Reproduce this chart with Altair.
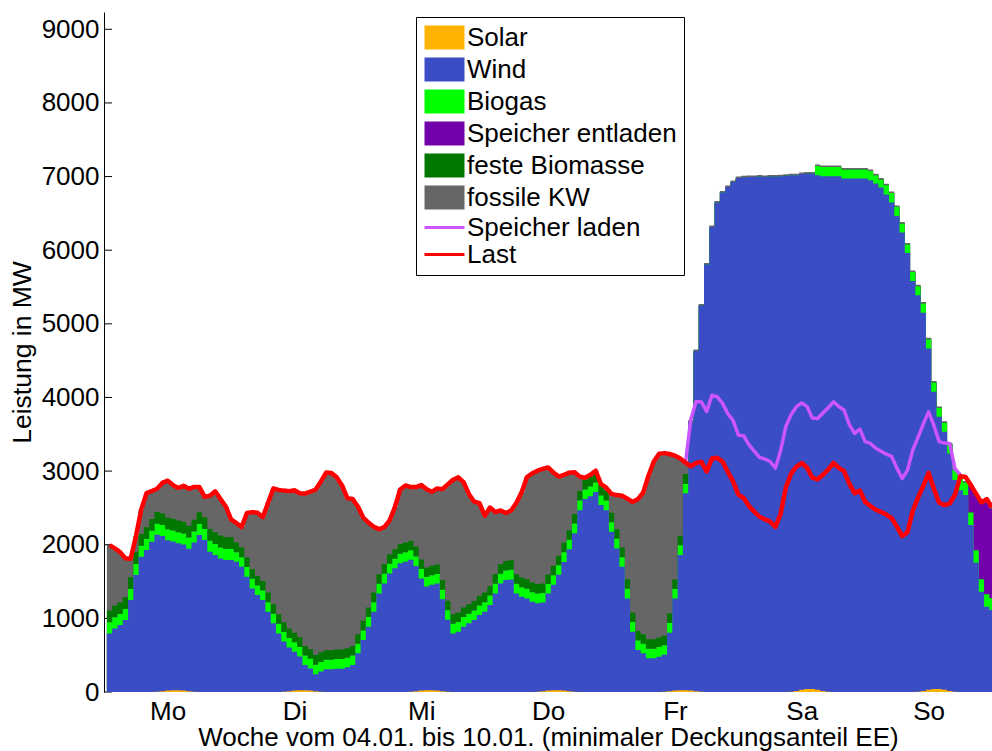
import altair as alt
import pandas as pd

# Hourly values for the week 04.01.-10.01. (hour 0 = Monday 00:00), in MW
last = [
    1995, 1950, 1900, 1815, 1810, 2120, 2480, 2700, 2730, 2760,
    2840, 2870, 2810, 2770, 2800, 2760, 2785, 2785, 2650, 2665,
    2725, 2620, 2520, 2345, 2295, 2240, 2430, 2443, 2435, 2375,
    2570, 2765, 2745, 2735, 2728, 2740, 2700, 2695, 2720, 2750,
    2860, 2980, 2973, 2915, 2805, 2633, 2620, 2520, 2370, 2300,
    2245, 2212, 2240, 2330, 2510, 2750, 2805, 2783, 2783, 2810,
    2755, 2718, 2765, 2755, 2820, 2882, 2915, 2850, 2690, 2585,
    2565, 2395, 2505, 2445, 2465, 2432, 2465, 2570, 2715, 2920,
    2970, 3005, 3030, 3050, 2980, 2925, 2950, 2978, 2985, 2925,
    2910, 2950, 3005, 2825, 2775, 2690, 2674, 2665, 2625, 2580,
    2620, 2710, 2940, 3130, 3235, 3244, 3232, 3210, 3170, 3115,
    3065, 3110, 3126, 2995, 3170, 3180, 3130, 2990, 2860, 2680,
    2635, 2525, 2450, 2380, 2345, 2315, 2240, 2420, 2780, 2968,
    3060, 3110, 3045, 2910, 2887, 2950, 3020, 3110, 3045, 3000,
    2830, 2700, 2735, 2580, 2525, 2475, 2445, 2410, 2362, 2245,
    2115, 2170, 2460, 2640, 2800, 2975, 2760, 2570, 2538, 2560,
    2680, 2930, 2920, 2810, 2690, 2575, 2620, 2510,
]

wind = [
    796, 864, 909, 977, 1249, 1588, 1837, 1927, 2041, 2131,
    2108, 2041, 2018, 1995, 1982, 1937, 2027, 2131, 2063, 1905,
    1860, 1814, 1792, 1792, 1769, 1701, 1566, 1407, 1317, 1249,
    1090, 932, 796, 683, 593, 525, 457, 340, 300, 231,
    276, 308, 308, 317, 317, 335, 366, 525, 706, 887,
    1090, 1339, 1475, 1611, 1679, 1747, 1769, 1792, 1701, 1520,
    1407, 1430, 1452, 1249, 977, 796, 819, 887, 932, 977,
    1045, 1090, 1181, 1339, 1475, 1520, 1529, 1339, 1294, 1271,
    1226, 1204, 1204, 1317, 1430, 1566, 1747, 1927, 2154, 2470,
    2620, 2660, 2715, 2540, 2470, 2176, 1950, 1701, 1271, 819,
    570, 525, 457, 457, 480, 502, 796, 1249, 1837, 2674,
    3650, 4620, 5245, 5806, 6316, 6647, 6783, 6859, 6927, 6980,
    6990, 6995, 6995, 7000, 6995, 7000, 7000, 7005, 7010, 7013,
    7003, 7005, 7001, 7001, 6988, 6989, 6999, 7004, 7004, 6973,
    6973, 6973, 6973, 6973, 6950, 6905, 6851, 6756, 6647, 6466,
    6240, 5963, 5583, 5384, 5134, 4635, 4036, 3697, 3503, 3225,
    2873, 2740, 2674, 2267, 1755, 1361, 1158, 1113,
]

solar = (
    [0] * 9 + [3, 10, 20, 25, 25, 20, 10, 3] + [0] * 7      # Mo
    + [0] * 9 + [3, 10, 20, 25, 25, 20, 10, 3] + [0] * 7    # Di
    + [0] * 9 + [3, 10, 20, 25, 25, 20, 10, 3] + [0] * 7    # Mi
    + [0] * 9 + [3, 10, 20, 25, 25, 20, 10, 3] + [0] * 7    # Do
    + [0] * 9 + [3, 10, 20, 25, 25, 20, 10, 3] + [0] * 7    # Fr
    + [0] * 9 + [5, 15, 30, 40, 40, 30, 15, 5] + [0] * 7    # Sa
    + [0] * 9 + [5, 15, 30, 40, 40, 30, 15, 5] + [0] * 7    # So
)

biogas = (
    [150] * 24 + [130] * 85 + [125] + [0] * 24
    + [126, 127, 127, 127, 127, 122, 122, 122, 122, 122, 126, 113, 108, 126,
       131, 122, 122, 114, 122, 122, 127, 127, 128, 122, 123, 125, 135]
    + [170] * 6 + [160]
)

biomasse = [160] * 24 + [130] * 85 + [135] + [0] * 58

speicher_entladen = [0] * 163 + [353, 745, 1024, 1272, 1217]

fossil = [
    889, 776, 681, 528, 251, 222, 333, 463, 379, 316,
    412, 499, 457, 440, 488, 503, 445, 344, 277, 450,
    555, 496, 418, 243, 266, 279, 604, 776, 858, 866,
    1220, 1573, 1689, 1789, 1865, 1935, 1958, 2070, 2140, 2249,
    2321, 2412, 2405, 2338, 2228, 2038, 1994, 1735, 1404, 1153,
    895, 613, 505, 459, 571, 743, 776, 728, 812, 1010,
    1063, 1003, 1033, 1236, 1580, 1826, 1836, 1703, 1498, 1348,
    1260, 1045, 1064, 846, 730, 652, 676, 971, 1161, 1389,
    1484, 1538, 1556, 1453, 1265, 1074, 923, 781, 568, 195,
    30, 30, 30, 25, 45, 254, 464, 704, 1094, 1501,
    1790, 1925, 2223, 2413, 2495, 2479, 2166, 1681, 1048, 156,
] + [20] * 58

# load plus storage charging, hours 109..161
laden_start = 109
speicher_laden = [
    3115, 3700, 3945, 3940, 3810, 4030, 4010, 3920, 3780, 3690,
    3488, 3480, 3360, 3270, 3186, 3165, 3130, 3040, 3280, 3610,
    3770, 3875, 3925, 3876, 3720, 3715, 3790, 3860, 3940, 3878,
    3830, 3630, 3512, 3570, 3400, 3376, 3310, 3270, 3230, 3200,
    3040, 2900, 3010, 3285, 3460, 3640, 3805, 3620, 3400, 3380,
    3376, 3030, 2950,
]

days = ["Mo", "Di", "Mi", "Do", "Fr", "Sa", "So"]

for series in (last, wind, solar, biogas, biomasse, speicher_entladen, fossil):
    assert len(series) == 168

# ---------------------------------------------------------------- tables
n = 168
stack = pd.DataFrame({
    "Solar": solar, "Wind": wind, "Biogas": biogas,
    "Speicher entladen": speicher_entladen, "feste Biomasse": biomasse,
    "fossile KW": fossil,
})
order = ["Solar", "Wind", "Biogas", "Speicher entladen", "feste Biomasse", "fossile KW"]
cum = stack[order].cumsum(axis=1)
cum["Stunde"] = range(n)
# repeat the last hour so the final step has its full width
cum = pd.concat([cum, cum.iloc[[-1]].assign(Stunde=n)], ignore_index=True)

lines_last = pd.DataFrame({"t": [h + 0.5 for h in range(n)], "MW": last})
lines_laden = pd.DataFrame({
    "t": [laden_start + i + 0.5 for i in range(len(speicher_laden))],
    "MW": speicher_laden,
})

colors = {
    "Solar": "#FFB300",
    "Wind": "#3A4DC4",
    "Biogas": "#00FF00",
    "Speicher entladen": "#7200AB",
    "feste Biomasse": "#007800",
    "fossile KW": "#666666",
    "Speicher laden": "#CC55FF",
    "Last": "#FF0000",
}

FONT = "Liberation Sans"
x_dom = [-0.55, 167.5]
y_max = 9235

x_scale = alt.Scale(domain=x_dom, nice=False, zero=False)
y_scale = alt.Scale(domain=[0, y_max], nice=False, zero=False)

tick_pos = [11.5 + 24 * i for i in range(len(days))]
day_js = "[" + ",".join("'" + d + "'" for d in days) + "]"

x_axis = alt.Axis(
    values=tick_pos,
    labelExpr=day_js + "[round((datum.value - 11.5) / 24)]",
    title="Woche vom 04.01. bis 10.01. (minimaler Deckungsanteil EE)",
    titleFont=FONT, titleFontSize=26, titleFontWeight="normal", titleColor="black",
    titleY=53, titleBaseline="alphabetic",
    labelFont=FONT, labelFontSize=26, labelColor="black", labelPadding=6,
    ticks=False, tickSize=0, domain=False, grid=False,
    labelFlush=False, labelOverlap=False,
)
y_axis = alt.Axis(
    values=list(range(0, 9001, 1000)), format="d",
    title="Leistung in MW",
    titleFont=FONT, titleFontSize=26.5, titleFontWeight="normal", titleColor="black",
    titlePadding=5,
    labelFont=FONT, labelFontSize=26, labelColor="black", labelPadding=5,
    ticks=False, tickSize=0, domain=True, domainColor="black", domainWidth=1,
    grid=False, labelFlush=False, labelOverlap=False,
)

# inward tick marks on the y axis (beneath the data)
ticks = alt.Chart(pd.DataFrame({"v": list(range(0, 9001, 1000))})).mark_rule(
    color="black", strokeWidth=1
).encode(
    y=alt.Y("v:Q", scale=y_scale, axis=y_axis),
    x=alt.value(0), x2=alt.value(8),
)

# stacked generation, painted from the top layer down
areas = []
for name in reversed(order):
    areas.append(
        alt.Chart(cum).mark_area(
            interpolate="step-after", color=colors[name], clip=True, strokeWidth=0
        ).encode(
            x=alt.X("Stunde:Q", scale=x_scale, axis=x_axis),
            y=alt.Y(f"{name}:Q", scale=y_scale, axis=y_axis),
        )
    )

laden_line = alt.Chart(lines_laden).mark_line(
    color=colors["Speicher laden"], strokeWidth=3.5, strokeJoin="round", clip=True
).encode(
    x=alt.X("t:Q", scale=x_scale, axis=x_axis),
    y=alt.Y("MW:Q", scale=y_scale, axis=y_axis),
)

last_line = alt.Chart(lines_last).mark_line(
    color=colors["Last"], strokeWidth=4.5, strokeJoin="round", clip=True
).encode(
    x=alt.X("t:Q", scale=x_scale, axis=x_axis),
    y=alt.Y("MW:Q", scale=y_scale, axis=y_axis),
)

# legend carrier: swatches for areas, short strokes for lines
legend_names = list(colors.keys())
rect_path = "".join(
    f"M-1,{y}H2.333" for y in (-0.875, -0.625, -0.375, -0.125, 0.125, 0.375, 0.625, 0.875)
)
line_path = "M-1,0H2.333"
legend_shapes = [rect_path] * 6 + [line_path] * 2

legend = alt.Legend(
    title=None, orient="none", legendX=312, legendY=5,
    padding=7, fillColor="white", strokeColor="black", cornerRadius=0,
    labelFont=FONT, labelFontSize=26, labelColor="black", labelLimit=500,
    labelOffset=17, symbolSize=576, symbolStrokeWidth=3, symbolOpacity=1,
    rowPadding=-1,
)
legend_layer = alt.Chart(pd.DataFrame({"Quelle": legend_names})).mark_point(
    filled=False, opacity=0, strokeWidth=3
).encode(
    color=alt.Color("Quelle:N", scale=alt.Scale(domain=legend_names,
                    range=[colors[k] for k in legend_names]), legend=legend),
    shape=alt.Shape("Quelle:N", scale=alt.Scale(domain=legend_names,
                    range=legend_shapes), legend=legend),
)

chart = alt.layer(ticks, *areas, laden_line, last_line, legend_layer).properties(
    width=888, height=680,
    padding={"left": 104, "top": 12, "right": 0, "bottom": 59},
    autosize=alt.AutoSizeParams(type="none"),
    background="white",
).configure_view(stroke=None)

chart.save("out.html", embed_options={"renderer": "svg", "actions": False})
